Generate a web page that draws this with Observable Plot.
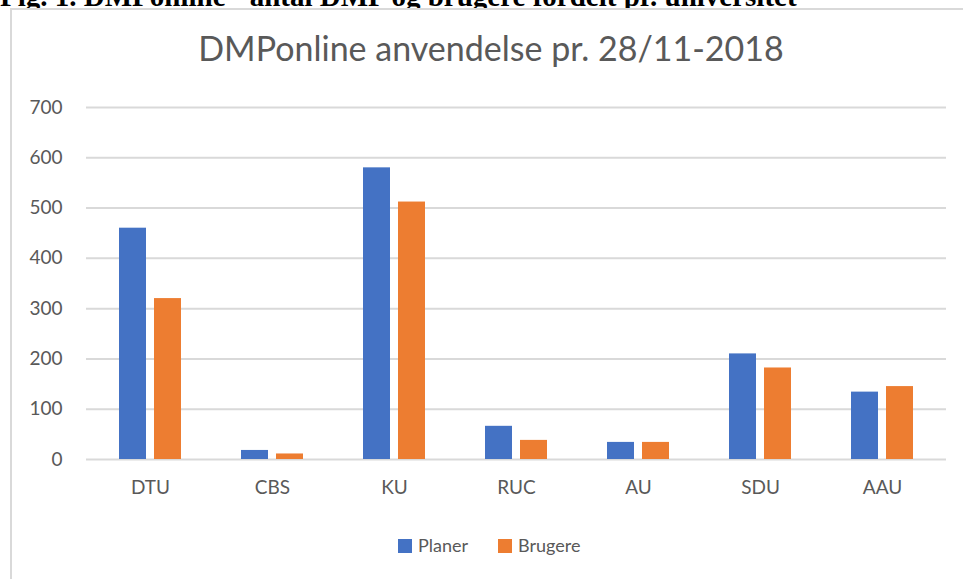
<!DOCTYPE html>
<html>
<head>
<meta charset="utf-8">
<script src="https://cdn.jsdelivr.net/npm/d3@7"></script>
<script src="https://cdn.jsdelivr.net/npm/@observablehq/plot@0.6"></script>
<style>
  html, body { margin: 0; padding: 0; background: #fff; width: 963px; height: 579px; overflow: hidden; position: relative; }
  #caption { position: absolute; left: 0; top: -18px; font-family: "Liberation Serif", serif; font-weight: bold; font-size: 29px; line-height: 29px; white-space: nowrap; color: #000; }
  #box { position: absolute; left: 10px; top: 8px; width: 960px; height: 580px; border-left: 2px solid #d9d9d9; border-top: 2px solid #d9d9d9; background: #fff; }
  #title { position: absolute; left: 0; width: 982px; top: 27px; text-align: center; font-family: Lato, sans-serif; font-size: 34px; line-height: 42px; color: #595959; }
  #chart { position: absolute; left: 0; top: 80px; }
  #legend { position: absolute; left: 0; top: 534px; font-family: Lato, sans-serif; font-size: 18px; color: #595959; line-height: 22px; }
  .item { position: absolute; white-space: nowrap; }
  .sw { display: inline-block; width: 14px; height: 14px; vertical-align: -1px; margin-right: 6px; }
</style>
</head>
<body>
<div id="caption">Fig. 1. DMPonline - antal DMP og brugere fordelt pr. universitet</div>
<div id="box"></div>
<div id="title">DMPonline anvendelse pr. 28/11-2018</div>
<div id="chart"></div>
<div id="legend"></div>
<script>
const categories = ["DTU", "CBS", "KU", "RUC", "AU", "SDU", "AAU"];
const seriesNames = ["Planer", "Brugere"];
const planer = [460, 18, 580, 66, 34, 210, 134];
const brugere = [320, 11, 512, 38, 34, 182, 145];
const yTicks = [0, 100, 200, 300, 400, 500, 600, 700];
const colors = ["#4472C4", "#ED7D31"];

const rowsPlaner = categories.map((c, i) => ({cat: c, value: planer[i]}));
const rowsBrugere = categories.map((c, i) => ({cat: c, value: brugere[i]}));

const chart = Plot.plot({
  width: 963,
  height: 429,
  marginTop: 27,
  marginBottom: 50,
  marginLeft: 86,
  marginRight: 17,
  style: {fontFamily: "Lato, sans-serif", fontSize: "19px", color: "#595959", background: "transparent"},
  x: {domain: categories, paddingInner: 0.495, paddingOuter: 0.25, tickSize: 0, tickPadding: 21, label: null},
  y: {domain: [0, 700], ticks: yTicks, tickSize: 0, tickPadding: 24, label: null},
  marks: [
    Plot.ruleY(yTicks, {stroke: "#d9d9d9", strokeWidth: 2}),
    Plot.barY(rowsPlaner, {x: "cat", y: "value", fill: colors[0], insetRight: 35}),
    Plot.barY(rowsBrugere, {x: "cat", y: "value", fill: colors[1], insetLeft: 35})
  ]
});
document.getElementById("chart").appendChild(chart);

const legend = document.getElementById("legend");
const lefts = [398, 498];
seriesNames.forEach((name, i) => {
  const item = document.createElement("div");
  item.className = "item";
  item.style.left = lefts[i] + "px";
  item.innerHTML = `<span class="sw" style="background:${colors[i]}"></span>${name}`;
  legend.appendChild(item);
});
</script>
</body>
</html>
